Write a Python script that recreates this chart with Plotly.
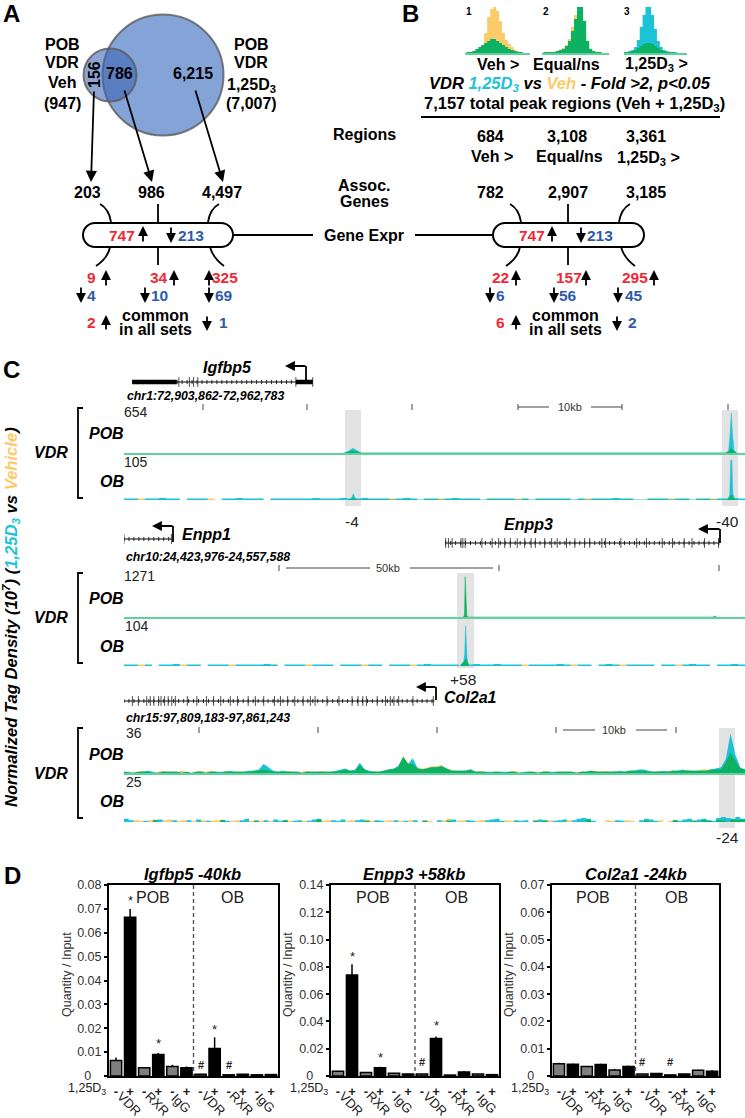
import numpy as np
import plotly.graph_objects as go

W, H = 745, 1118
FONT = "Liberation Sans"
TEAL = "#1cc3d6"
ORANGE = "#fdca6a"
GREEN = "#0cb261"
BASE = "#62d09c"
RED = "#ed2a35"
BLUE = "#2f5aa8"
SPOT = "#e3e3e3"

# panel B peak profiles (height per bin, arbitrary tag units)
mini_bins = list(range(23))
mini1_veh = [0, 0, 1, 1, 2, 4, 8, 20, 36, 44, 46, 42, 32, 20, 13, 9, 6, 3, 2, 1, 0, 0, 0]
mini1_both = [0, 1, 1, 2, 4, 6, 8, 10, 12, 14, 14, 12, 10, 8, 6, 4, 3, 2, 1, 1, 0, 0, 0]
mini2_veh = [0, 1, 1, 1, 1, 2, 3, 5, 8, 14, 26, 38, 45, 40, 22, 8, 3, 2, 1, 1, 0, 0, 0]
mini2_both = [0, 1, 1, 1, 1, 2, 3, 4, 7, 12, 22, 34, 46, 46, 32, 12, 4, 2, 1, 1, 0, 0, 0]
mini3_d3 = [1, 1, 2, 3, 6, 13, 26, 38, 46, 46, 38, 24, 12, 6, 3, 2, 1, 1, 1, 0, 0, 0, 0]
mini3_both = [0, 1, 1, 2, 3, 5, 7, 9, 10, 10, 9, 7, 5, 3, 2, 1, 1, 1, 0, 0, 0, 0, 0]

# panel C tracks: kb from window start, normalised tag density
igf_window, enpp_window, col_window = 58.9, 133.6, 52.0

igf_pob_x = [20.9, 21.3, 21.7, 22.1, 22.5, 57.1, 57.35, 57.5, 57.6, 57.7, 57.85, 58.1]
igf_pob_d3 = [0, 30, 75, 35, 0, 0, 40, 330, 640, 330, 50, 0]
igf_pob_both = [0, 15, 30, 15, 0, 0, 20, 50, 70, 50, 15, 0]
igf_ob_x = [21.3, 21.6, 21.75, 21.9, 22.2, 57.2, 57.45, 57.55, 57.65, 57.75, 58.0]
igf_ob_d3 = [0, 6, 16, 6, 0, 0, 12, 102, 102, 15, 0]
igf_ob_both = [0, 2, 5, 2, 0, 0, 5, 12, 12, 5, 0]
igf_noise_d3 = [4, 4, 0, 4, 4, 5, 4, 4, 0, 4, 4, 4, 0, 0, 4, 4, 5, 4, 4, 4, 0, 4, 4, 4, 4, 4, 4, 5, 4, 4,
                4, 5, 4, 4, 5, 4, 4, 4, 0, 4, 5, 4, 0, 4, 4, 0, 4, 5, 4, 4, 4, 0, 4, 4, 4, 4, 0, 4, 0, 4,
                4, 4, 4, 4, 0, 4, 0, 4, 4, 4, 5, 4, 4, 0, 0, 4, 4, 4, 0, 4, 4, 0, 4, 4, 0, 4, 4, 5, 4, 4]
igf_noise_veh = [0, 0, 4, 0, 0, 0, 0, 0, 0, 0, 0, 0, 4, 0, 0, 0, 0, 0, 0, 0, 0, 0, 0, 0, 0, 0, 0, 0, 0, 0,
                 0, 0, 0, 0, 0, 0, 0, 0, 4, 0, 0, 0, 0, 0, 0, 4, 0, 0, 0, 0, 0, 0, 0, 0, 0, 0, 4, 0, 0, 0,
                 0, 0, 0, 0, 0, 0, 4, 0, 0, 0, 0, 0, 0, 0, 0, 0, 0, 0, 4, 0, 0, 0, 0, 0, 4, 0, 0, 0, 0, 0]

enpp_pob_x = [73.0, 73.25, 73.4, 73.55, 73.75, 74.0, 126.7, 127.1, 127.5]
enpp_pob_both = [0, 60, 1250, 300, 40, 0, 0, 30, 0]
enpp_ob_x = [72.3, 72.7, 73.1, 73.3, 73.5, 73.65, 73.8, 74.2]
enpp_ob_d3 = [0, 6, 12, 30, 102, 60, 20, 0]
enpp_ob_both = [0, 5, 9, 12, 18, 14, 8, 0]
enpp_noise_d3 = [4, 4, 0, 4, 0, 4, 4, 5, 0, 4, 4, 0, 4, 4, 4, 0, 4, 4, 4, 4, 5, 4, 0, 4, 4, 4, 0, 4, 4, 4,
                 0, 4, 4, 4, 0, 4, 4, 0, 4, 4, 4, 0, 4, 5, 4, 4, 4, 4, 0, 4, 5, 4, 4, 5, 4, 4, 4, 0, 4, 4,
                 4, 4, 5, 4, 0, 4, 4, 0, 4, 5, 4, 0, 4, 4, 4, 4, 0, 4, 4, 0, 4, 5, 4, 4, 0, 4, 4, 5, 4, 4]
enpp_noise_veh = [0, 0, 4, 0, 0, 0, 0, 0, 4, 0, 0, 0, 0, 0, 0, 4, 0, 0, 0, 0, 0, 0, 0, 0, 0, 0, 4, 0, 0, 0,
                  0, 0, 0, 0, 4, 0, 0, 0, 0, 0, 0, 4, 0, 0, 0, 0, 0, 0, 0, 0, 0, 0, 0, 0, 0, 0, 0, 4, 0, 0,
                  0, 0, 0, 0, 4, 0, 0, 0, 0, 0, 0, 4, 0, 0, 0, 0, 0, 0, 0, 4, 0, 0, 0, 0, 0, 0, 0, 0, 0, 0]

col_pob_d3 = [1, 1, 0, 1, 1, 2, 1, 0, 1, 1, 1, 1, 0, 1, 0, 1, 1, 0, 1, 1, 1, 1, 2, 1, 1, 1, 2, 2, 3, 8,
              5, 2, 1, 2, 1, 1, 1, 0, 1, 1, 1, 1, 1, 1, 2, 3, 4, 2, 3, 9, 3, 2, 1, 1, 2, 3, 4, 6, 14, 8,
              13, 4, 3, 4, 5, 5, 6, 4, 2, 2, 2, 2, 3, 1, 1, 1, 1, 1, 1, 1, 1, 1, 0, 1, 1, 1, 0, 1, 1, 1,
              1, 1, 1, 1, 0, 1, 1, 2, 1, 1, 1, 1, 1, 2, 1, 2, 2, 3, 3, 2, 1, 1, 2, 1, 2, 2, 3, 2, 2, 2,
              2, 2, 3, 4, 5, 12, 35, 16, 5, 3]
col_pob_veh = [1, 0, 1, 1, 2, 1, 0, 1, 2, 1, 1, 1, 2, 1, 0, 1, 2, 1, 2, 1, 0, 2, 1, 1, 1, 1, 1, 2, 2, 3,
               2, 1, 1, 1, 2, 1, 1, 1, 2, 1, 1, 2, 1, 1, 1, 2, 3, 2, 2, 7, 3, 1, 2, 1, 2, 3, 3, 6, 15, 9,
               8, 5, 4, 5, 6, 6, 7, 4, 3, 2, 2, 2, 3, 1, 2, 1, 0, 1, 1, 0, 1, 2, 1, 0, 1, 1, 1, 1, 2, 0,
               1, 1, 1, 1, 1, 1, 1, 2, 2, 1, 2, 1, 2, 1, 1, 2, 2, 2, 2, 1, 1, 2, 1, 2, 2, 2, 2, 3, 2, 2,
               3, 3, 3, 3, 3, 9, 18, 11, 4, 3]
col_noise_d3 = [2, 1, 0, 0, 0.8, 0, 1, 1.5, 0, 0, 1, 0, 0, 1, 0, 1.5, 0, 0.8, 0, 0, 1, 0.8, 0, 0, 1, 2, 0, 0.8, 0, 1,
                0, 1.5, 0.8, 1, 0, 0.8, 1, 0, 0.8, 1.5, 2, 0, 0, 1, 0.8, 1.5, 0, 0, 1, 1.5, 0.8, 0, 1, 0.8, 0, 0, 1, 0, 0.8, 0,
                1, 0, 0.8, 0, 0, 1, 0, 0.8, 1.5, 0, 0, 1, 0.8, 0, 0, 1, 1.5, 2, 0.8, 0, 0, 1, 0.8, 1, 0, 0.8, 1.5, 1, 0, 0.8,
                1, 1.5, 0, 1, 2, 2.5, 2, 0.8, 0, 0, 0, 0, 1, 0.8, 0, 0, 0, 1, 2, 1.5, 0.8, 0, 0, 0, 1, 0.8, 1.5, 2, 0.8, 1.5,
                2, 1, 0.8, 2.5, 3, 2.5, 2, 3, 2, 1.5]
col_noise_veh = [0, 0, 1, 0.8, 0, 1, 1.5, 0, 1, 1.5, 0, 0.8, 1, 0, 0.8, 0, 1, 0, 0.8, 1, 1.5, 0, 0.8, 1, 0, 0, 0.8, 1, 0.8, 0,
                 0.8, 0, 0, 1, 0.8, 0, 0, 0.8, 0, 0, 1.5, 0.8, 1, 0, 0, 0, 0.8, 1, 0, 0, 1, 0.8, 0, 0, 0.8, 1, 0, 0.8, 0, 1,
                 0, 0, 1, 0.8, 0, 0, 1, 2, 0, 0.8, 1, 0, 0, 0.8, 1, 0, 0, 0, 0, 1, 0.8, 0, 0, 0, 0, 1, 0, 0.8, 1, 0,
                 0, 0, 1, 0, 0, 0, 1.5, 0, 0, 0, 1, 0.8, 0, 0, 1, 0.8, 0, 0, 0.8, 0, 0, 1, 0, 0.8, 1, 0, 0, 0, 0.8, 0,
                 1, 0.8, 0, 1, 1, 0, 1.5, 1, 1.5, 0]

# gene models: kb from window start
igf_thick = [(0.8, 5.0), (16.3, 17.9)]
igf_span = (0.8, 17.9)
igf_exons = [5.2, 6.2, 6.6, 7.0, 16.3, 17.9]
enpp1_span = (0.0, 10.3)
enpp1_exons = [0.0, 10.2]
enpp3_span = (69.2, 128.0)
enpp3_exons = [69.2, 69.8, 70.6, 72.5, 72.9, 73.4, 77.0, 79.2, 80.6, 81.9, 83.1, 84.6, 86.2, 87.6, 88.5, 90.5, 92.0,
               93.2, 95.2, 97.0, 99.1, 100.2, 102.8, 103.6, 106.9, 110.3, 112.4, 115.8, 118.0, 120.5, 122.2,
               124.9, 127.9]
col_span = (0.0, 26.0)
col_exons = [0.7, 1.2, 1.9, 2.2, 2.5, 2.9, 3.1, 3.4, 3.7, 4.0, 4.3, 5.3, 6.1, 6.9, 7.5, 8.1, 8.9, 9.5, 10.4, 11.0,
             11.7, 12.6, 13.1, 13.7, 14.3, 15.0, 15.6, 16.0, 17.0, 18.0, 19.1, 19.6, 20.0, 20.3, 21.2, 21.9, 22.3,
             22.6, 23.0, 24.2, 25.9]

# panel D ChIP-qPCR
igf_vals = [0.0065, 0.0665, 0.0035, 0.009, 0.004, 0.0035, 0.0007, 0.0115, 0.0005, 0.0007, 0.0005, 0.0006]
igf_errs = [0.0013, 0.0035, 0.0003, 0.0007, 0.0007, 0.0005, 0.0001, 0.0047, 0.0001, 0.0001, 0.0001, 0.0002]
enpp_vals = [0.0035, 0.074, 0.0025, 0.006, 0.002, 0.0015, 0.0015, 0.0275, 0.0007, 0.003, 0.0015, 0.001]
enpp_errs = [0.0003, 0.008, 0.0003, 0.0008, 0.0002, 0.0002, 0.0002, 0.0015, 0.0001, 0.0006, 0.0002, 0.0003]
col_vals = [0.0045, 0.0043, 0.0035, 0.0042, 0.0022, 0.0035, 0.0007, 0.0009, 0.0004, 0.0007, 0.0021, 0.0017]
col_errs = [0.0004, 0.0002, 0.0002, 0.0003, 0.0004, 0.0003, 0.0001, 0.0002, 0.0001, 0.0001, 0.0002, 0.0005]
igf_ticks = [0, 0.01, 0.02, 0.03, 0.04, 0.05, 0.06, 0.07, 0.08]
enpp_ticks = [0, 0.02, 0.04, 0.06, 0.08, 0.10, 0.12, 0.14]
col_ticks = [0, 0.01, 0.02, 0.03, 0.04, 0.05, 0.06, 0.07]
treat_labels = ["-", "+"] * 6
group_labels = ["VDR", "RXR", "IgG", "VDR", "RXR", "IgG"]


def px(x):
    return x / W


def py(y):
    return 1 - y / H


shapes = []
annots = []
layout_axes = {}
fig = go.Figure()
axis_no = 0


def txt(x, y, s, size=16, bold=True, italic=False, color="black", angle=0, anchor="center"):
    if italic:
        s = "<i>" + s + "</i>"
    if bold:
        s = "<b>" + s + "</b>"
    annots.append(dict(x=px(x), y=py(y), xref="paper", yref="paper", text=s, showarrow=False,
                       xanchor=anchor, yanchor="middle", textangle=angle,
                       font=dict(family=FONT, size=size, color=color)))


def arrow(x0, y0, x1, y1, width=1.8, size=1.25):
    annots.append(dict(x=px(x1), y=py(y1), xref="paper", yref="paper", text="", showarrow=True,
                       ax=x0 - x1, ay=y0 - y1, axref="pixel", ayref="pixel",
                       arrowhead=2, arrowwidth=width, arrowsize=size, arrowcolor="black"))


def seg(x0, y0, x1, y1, color="black", width=1.8, dash=None):
    shapes.append(dict(type="line", xref="paper", yref="paper", x0=px(x0), y0=py(y0), x1=px(x1), y1=py(y1),
                       line=dict(color=color, width=width, dash=dash)))


def curve(x0, y0, cx, cy, x1, y1):
    p = f"M {px(x0)} {py(y0)} Q {px(cx)} {py(cy)} {px(x1)} {py(y1)}"
    shapes.append(dict(type="path", xref="paper", yref="paper", path=p, line=dict(color="black", width=1.8)))


def pill(x0, x1, y0, y1):
    r = (y1 - y0) / 2
    k = r * 0.55
    p = (f"M {px(x0 + r)} {py(y0)} L {px(x1 - r)} {py(y0)} "
         f"C {px(x1 - r + k)} {py(y0)} {px(x1)} {py(y0 + r - k)} {px(x1)} {py(y0 + r)} "
         f"C {px(x1)} {py(y0 + r + k)} {px(x1 - r + k)} {py(y1)} {px(x1 - r)} {py(y1)} "
         f"L {px(x0 + r)} {py(y1)} "
         f"C {px(x0 + r - k)} {py(y1)} {px(x0)} {py(y0 + r + k)} {px(x0)} {py(y0 + r)} "
         f"C {px(x0)} {py(y0 + r - k)} {px(x0 + r - k)} {py(y0)} {px(x0 + r)} {py(y0)} Z")
    shapes.append(dict(type="path", xref="paper", yref="paper", path=p, line=dict(color="black", width=2)))


def bracket(y0, y1):
    p = f"M {px(83)} {py(y0)} L {px(78)} {py(y0)} L {px(78)} {py(y1)} L {px(83)} {py(y1)}"
    shapes.append(dict(type="path", xref="paper", yref="paper", path=p, line=dict(color="black", width=1.8)))


def spot(x0, x1, y0, y1):
    shapes.append(dict(type="rect", xref="paper", yref="paper", x0=px(x0), x1=px(x1), y0=py(y0), y1=py(y1),
                       fillcolor=SPOT, line=dict(width=0), layer="below"))


def circle(cx, cy, r, fill):
    shapes.append(dict(type="circle", xref="paper", yref="paper", x0=px(cx - r), x1=px(cx + r),
                       y0=py(cy + r), y1=py(cy - r), fillcolor=fill, line=dict(color="rgba(90,90,90,0.8)", width=2)))


def new_axes(x0, x1, top, bottom, xr, yr, show_base=False):
    global axis_no
    axis_no += 1
    n = axis_no
    layout_axes[f"xaxis{n}"] = dict(domain=[px(x0), px(x1)], range=xr, anchor=f"y{n}", showgrid=False, zeroline=False,
                                    showticklabels=False, ticks="", showline=show_base, linecolor=BASE, linewidth=2,
                                    visible=show_base)
    layout_axes[f"yaxis{n}"] = dict(domain=[py(bottom), py(top)], range=yr, anchor=f"x{n}", visible=False)
    return f"x{n}", f"y{n}"


def area(ax, x, y, color, shape="linear", width=0.5):
    fig.add_trace(go.Scatter(x=x, y=y, xaxis=ax[0], yaxis=ax[1], mode="lines", fill="tozeroy", fillcolor=color,
                             line=dict(color=color, width=width, shape=shape), hoverinfo="skip"))


def mini(x0, x1, under, under_color, over):
    ax = new_axes(x0, x1, 6, 53, [0, 22], [0, 47], show_base=True)
    area(ax, mini_bins, under, under_color, "hvh", 0)
    area(ax, mini_bins, over, GREEN, "hvh", 0)


def track(top, bottom, window, ymax, show_base=False):
    return new_axes(124, 745, top, bottom, [0, window], [0, ymax], show_base=show_base)


def noise(ax, window, d3, veh):
    x = np.linspace(0, window, len(d3))
    area(ax, x, veh, ORANGE, "hv", 0)
    area(ax, x, d3, TEAL, "hv", 0)
    area(ax, x, np.minimum(d3, veh), GREEN, "hv", 0)


def gene(window, y, span, exons, thick=()):
    ax = new_axes(124, 745, y - 6, y + 6, [0, window], [-1, 1])
    hatch = np.arange(span[0], span[1], window / 125)
    fig.add_trace(go.Scatter(x=list(span), y=[0, 0], xaxis=ax[0], yaxis=ax[1], mode="lines",
                             line=dict(color="black", width=1), hoverinfo="skip"))
    fig.add_trace(go.Scatter(x=hatch, y=[0] * len(hatch), xaxis=ax[0], yaxis=ax[1], mode="markers",
                             marker=dict(symbol="line-ns", size=3, line=dict(color="black", width=0.8)),
                             hoverinfo="skip"))
    fig.add_trace(go.Scatter(x=exons, y=[0] * len(exons), xaxis=ax[0], yaxis=ax[1], mode="markers",
                             marker=dict(symbol="line-ns", size=7, line=dict(color="#222", width=0.8)),
                             hoverinfo="skip"))
    for a, b in thick:
        fig.add_trace(go.Scatter(x=[a, b], y=[0, 0], xaxis=ax[0], yaxis=ax[1], mode="lines",
                                 line=dict(color="black", width=4.5), hoverinfo="skip"))


def tss(x, y0, y1, x1):
    seg(x, y0, x, y1, width=1.8)
    arrow(x + 1, y1, x1, y1, width=1.8, size=1.1)


def scale(y, ticks, left, right, label, label_x):
    for t in ticks:
        seg(t, y - 3, t, y + 3, color="#444", width=1)
    seg(left[0], y, left[1], y, color="#444", width=1)
    seg(right[0], y, right[1], y, color="#444", width=1)
    txt(label_x, y, label, size=11, bold=False, color="#333")


def counts(x_up, x_dn, xr, xb, r_label, b_label):
    txt(xr, 277, r_label, size=15.5, color=RED)
    txt(xb, 295, b_label, size=15.5, color=BLUE)
    arrow(x_up, 287, x_up, 270, size=1.1)
    arrow(x_dn, 286, x_dn, 303, size=1.1)


def funnel(x0, x1, xc):
    pill(x0, x1, 223, 247)
    seg(xc, 204, xc, 222)
    seg(xc, 247, xc, 265)
    curve(x0 + 17, 204, x0 + 26, 209, x0 + 28, 222)
    curve(x1 - 14, 204, x1 - 23, 209, x1 - 25, 222)
    curve(x0 + 27, 247, x0 + 25, 258, x0 + 13, 266)
    curve(x1 - 23, 247, x1 - 20, 258, x1 - 9, 266)


# panel A
txt(11, 13, "A", size=24)
circle(163, 75, 60.5, "rgba(73,120,196,0.68)")
circle(110, 75, 26.5, "rgba(60,100,180,0.58)")
for y, s in zip([44, 63, 83, 104], ["POB", "VDR", "Veh", "(947)"]):
    txt(62, y, s)
for y, s in zip([44, 63, 85, 104], ["POB", "VDR", "1,25D<sub>3</sub>", "(7,007)"]):
    txt(251, y, s)
txt(94, 75, "156", angle=-90)
txt(119, 74, "786")
txt(193, 74, "6,215")
arrow(94, 90, 91, 182)
arrow(124, 89, 152, 182)
arrow(195, 89, 223, 182)
txt(87, 193, "203")
txt(151, 193, "986")
txt(222, 193, "4,497")
funnel(83, 233, 158)
txt(122, 235, "747", size=15.5, color=RED)
txt(191, 235, "213", size=15.5, color=BLUE)
arrow(143, 243, 143, 226, size=1.1)
arrow(171, 226, 171, 243, size=1.1)
seg(233, 235, 313, 235)
txt(364, 235, "Gene Expr")
counts(106, 81, 91, 91, "9", "4")
counts(174, 145, 159, 159, "34", "10")
counts(209, 209, 225, 224, "325", "69")
txt(91, 323, "2", size=15.5, color=RED)
arrow(106, 331, 106, 315, size=1.1)
txt(155, 315, "common")
txt(155, 329, "in all sets")
arrow(207, 315, 207, 331, size=1.1)
txt(223, 323, "1", size=15.5, color=BLUE)

# panel B
txt(411, 13, "B", size=24)
txt(469, 12, "1", size=10)
txt(546, 12, "2", size=10)
txt(627, 12, "3", size=10)
mini(465, 530, mini1_veh, ORANGE, mini1_both)
mini(542, 609, mini2_veh, ORANGE, mini2_both)
mini(624, 687, mini3_d3, TEAL, mini3_both)
txt(498, 64, "Veh &gt;")
txt(566, 64, "Equal/ns")
txt(656, 65, "1,25D<sub>3</sub> &gt;")
txt(570, 84, f"VDR <span style='color:{TEAL}'>1,25D<sub>3</sub></span> vs "
             f"<span style='color:{ORANGE}'>Veh</span> - Fold &gt;2, p&lt;0.05", size=16.5, italic=True)
txt(574, 104, "7,157 total peak regions (Veh + 1,25D<sub>3</sub>)", size=16.5)
seg(421, 117, 720, 117, width=2)
txt(364, 135, "Regions")
txt(490, 136, "684")
txt(567, 136, "3,108")
txt(646, 136, "3,361")
txt(492, 157, "Veh &gt;")
txt(569, 157, "Equal/ns")
txt(648, 158, "1,25D<sub>3</sub> &gt;")
txt(364, 185, "Assoc.")
txt(364, 202, "Genes")
txt(490, 193, "782")
txt(568, 193, "2,907")
txt(646, 193, "3,185")
funnel(493, 644, 568)
txt(532, 235, "747", size=15.5, color=RED)
txt(600, 235, "213", size=15.5, color=BLUE)
arrow(552, 243, 552, 226, size=1.1)
arrow(581, 226, 581, 243, size=1.1)
seg(415, 235, 492, 235)
counts(516, 490, 500, 500, "22", "6")
counts(586, 554, 569, 568, "157", "56")
counts(654, 618, 635, 634, "295", "45")
txt(500, 323, "6", size=15.5, color=RED)
arrow(516, 331, 516, 315, size=1.1)
txt(565, 315, "common")
txt(565, 329, "in all sets")
arrow(617, 315, 617, 331, size=1.1)
txt(632, 323, "2", size=15.5, color=BLUE)

# panel C
txt(11, 369, "C", size=24)
txt(10, 617, f"Normalized Tag Density (10<sup>7</sup>) (<span style='color:{TEAL}'>1,25D<sub>3</sub> </span>vs "
             f"<span style='color:{ORANGE}'>Vehicle</span>)", size=16.6, italic=True, angle=-90)

# Igfbp5
txt(227, 368, "Igfbp5", size=16, italic=True)
gene(igf_window, 382, igf_span, igf_exons, igf_thick)
tss(306, 380, 366, 285)
txt(205, 396, "chr1:72,903,862-72,962,783", size=12.3, italic=True)
scale(407, [203, 307, 412, 518, 622, 728], (518, 549), (591, 622), "10kb", 570)
spot(345, 361, 410, 506)
spot(722, 738, 410, 506)
ax = track(412, 453, igf_window, 654, show_base=True)
area(ax, igf_pob_x, igf_pob_d3, TEAL)
area(ax, igf_pob_x, igf_pob_both, GREEN)
ax = track(459, 500, igf_window, 105)
noise(ax, igf_window, igf_noise_d3, igf_noise_veh)
area(ax, igf_ob_x, igf_ob_d3, TEAL)
area(ax, igf_ob_x, igf_ob_both, GREEN)
for y, s, x in [(433, "POB", 106), (453, "VDR", 51), (481, "OB", 112)]:
    txt(x, y, s, italic=True)
txt(136, 412, "654", size=14, bold=False, color="#222")
txt(136, 462, "105", size=14, bold=False, color="#222")
bracket(408, 498)
txt(352, 521, "-4", size=15.5, bold=False, color="#222")
txt(727, 521, "-40", size=15.5, bold=False, color="#222")

# Enpp1 / Enpp3
txt(206, 534, "Enpp1", size=16, italic=True)
txt(528, 524, "Enpp3", size=16, italic=True)
gene(enpp_window, 539, enpp1_span, enpp1_exons)
gene(enpp_window, 543, enpp3_span, enpp3_exons)
tss(173, 542, 526, 152)
tss(720, 543, 529, 698)
txt(208, 557, "chr10:24,423,976-24,557,588", size=12.3, italic=True)
scale(568, [279, 499, 719], (286, 370), (410, 493), "50kb", 388)
spot(457, 474, 573, 668)
ax = track(576, 617, enpp_window, 1271, show_base=True)
area(ax, enpp_pob_x, enpp_pob_both, GREEN)
ax = track(625, 666, enpp_window, 104)
noise(ax, enpp_window, enpp_noise_d3, enpp_noise_veh)
area(ax, enpp_ob_x, enpp_ob_d3, TEAL)
area(ax, enpp_ob_x, enpp_ob_both, GREEN)
for y, s, x in [(598, "POB", 106), (617, "VDR", 51), (646, "OB", 112)]:
    txt(x, y, s, italic=True)
txt(139, 576, "1271", size=14, bold=False, color="#222")
txt(137, 626, "104", size=14, bold=False, color="#222")
bracket(573, 663)
txt(463, 679, "+58", size=15.5, bold=False, color="#222")

# Col2a1
txt(470, 697, "Col2a1", size=16, italic=True)
gene(col_window, 701, col_span, col_exons)
tss(436, 700, 687, 416)
txt(208, 718, "chr15:97,809,183-97,861,243", size=12.3, italic=True)
scale(730, [199, 318, 437, 556, 676], (563, 595), (636, 667), "10kb", 614)
spot(719, 735, 728, 828)
ax = track(732, 773, col_window, 36, show_base=True)
col_x = np.linspace(0, col_window, len(col_pob_d3))
area(ax, col_x, col_pob_veh, ORANGE, "linear", 0)
area(ax, col_x, col_pob_d3, TEAL, "linear", 0)
area(ax, col_x, np.minimum(col_pob_d3, col_pob_veh), GREEN, "linear", 0)
ax = track(781, 822, col_window, 25)
noise(ax, col_window, col_noise_d3, col_noise_veh)
for y, s, x in [(754, "POB", 106), (773, "VDR", 51), (801, "OB", 112)]:
    txt(x, y, s, italic=True)
txt(134, 733, "36", size=14, bold=False, color="#222")
txt(134, 782, "25", size=14, bold=False, color="#222")
bracket(728, 818)
txt(727, 837, "-24", size=15.5, bold=False, color="#222")

# panel D
txt(13, 875, "D", size=24)


def barchart(x0, x1, title, vals, errs, ticks, ylab_x, title_x, pob_x, ob_x, stars, hashes):
    global axis_no
    axis_no += 1
    n = axis_no
    layout_axes[f"xaxis{n}"] = dict(domain=[px(x0), px(x1)], range=[-0.5, 11.5], anchor=f"y{n}", showgrid=False,
                                    zeroline=False, showline=True, linewidth=2, linecolor="black", mirror=True,
                                    ticks="outside", ticklen=2, tickcolor="rgba(0,0,0,0)", tickmode="array",
                                    tickvals=list(range(12)),
                                    ticktext=[f"<b>{s}</b>" for s in treat_labels], tickangle=0,
                                    tickfont=dict(family=FONT, size=13, color="#222"))
    layout_axes[f"yaxis{n}"] = dict(domain=[py(1076), py(885)], range=[0, ticks[-1]], anchor=f"x{n}", showgrid=False,
                                    zeroline=False, showline=True, linewidth=2, linecolor="black", mirror=True,
                                    ticks="outside", ticklen=3, tickwidth=1.5, tickcolor="black", tickmode="array",
                                    tickvals=ticks, ticktext=["0\u00a0\u00a0\u00a0"] + [f"{t:.2f}" for t in ticks[1:]],
                                    tickfont=dict(family=FONT, size=12.5, color="#333"))
    colors = ["#7f7f7f", "black"] * 6
    fig.add_trace(go.Bar(x=list(range(12)), y=vals, xaxis=f"x{n}", yaxis=f"y{n}", width=0.8,
                         marker=dict(color=colors, line=dict(color="black", width=1.5)),
                         error_y=dict(type="data", symmetric=False, array=errs, arrayminus=[0] * 12,
                                      color="black", thickness=1.5, width=0), hoverinfo="skip"))
    mid = (x0 + x1) / 2
    seg(mid, 885, mid, 1076, color="#555", width=1.4, dash="4px,3px")
    txt(title_x, 874, title, size=16.5, italic=True)
    txt(pob_x, 897, "POB", size=16, bold=False, color="#222")
    txt(ob_x, 897, "OB", size=16, bold=False, color="#222")
    txt(ylab_x, 975, "Quantity / Input", size=12.5, bold=False, color="#333", angle=-90)
    txt(x0 - 1, 1089, "1,25D<sub>3</sub>", size=12.5, bold=False, color="#222", anchor="right")
    pitch = (x1 - x0) / 12
    for i, s in zip([0.5, 2.5, 4.5, 6.5, 8.5, 10.5], group_labels):
        nudge = 2 if s == "IgG" else 6
        txt(x0 + pitch * (i + 0.5) + nudge, 1103, s, size=13, bold=False, color="#222", angle=45)
    for i, y in stars:
        txt(x0 + pitch * (i + 0.5), y, "*", size=13, bold=False, color="#222")
    for i, y in hashes:
        txt(x0 + pitch * (i + 0.5), y, "#", size=11, color="#222")


barchart(109, 278, "Igfbp5 -40kb", igf_vals, igf_errs, igf_ticks, 67, 192, 153, 232,
         [(1, 900), (3, 1043), (7, 1029)], [(6, 1065), (8, 1065)])
barchart(331, 499, "Enpp3 +58kb", enpp_vals, enpp_errs, enpp_ticks, 288, 414, 373, 456,
         [(1, 956), (3, 1057), (7, 1025)], [(6, 1062)])
barchart(552, 719, "Col2a1 -24kb", col_vals, col_errs, col_ticks, 509, 636, 593, 676,
         [], [(6, 1062), (8, 1062)])

fig.update_layout(width=W, height=H, margin=dict(l=0, r=0, t=0, b=0, pad=0, autoexpand=False),
                  plot_bgcolor="rgba(0,0,0,0)", paper_bgcolor="white", showlegend=False,
                  shapes=shapes, annotations=annots, **layout_axes)
fig.write_html("out.html", post_script="document.body.style.margin='0';", config=dict(displayModeBar=False))
